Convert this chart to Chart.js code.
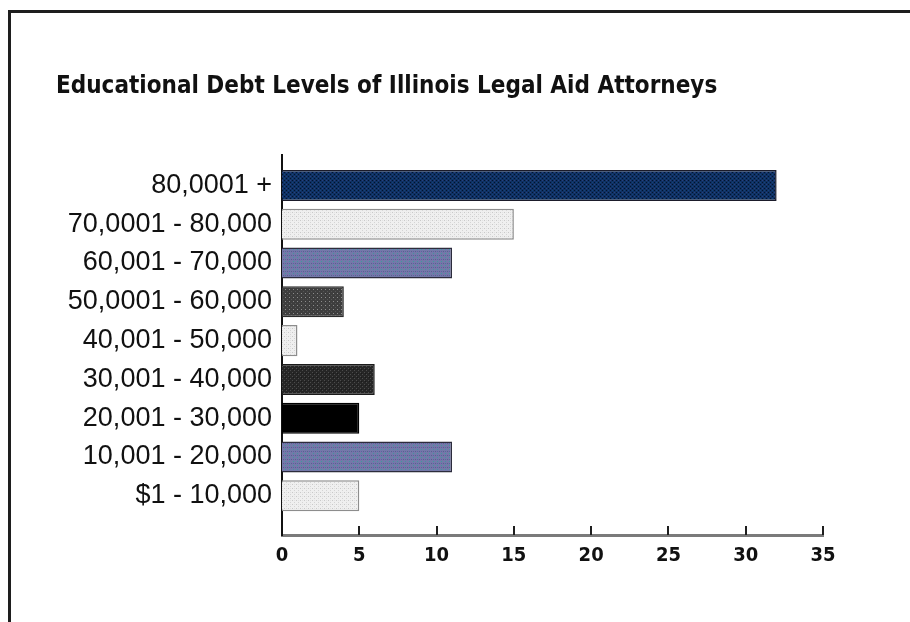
<!DOCTYPE html>
<html>
<head>
<meta charset="utf-8">
<title>Educational Debt Levels of Illinois Legal Aid Attorneys</title>
<script src="https://cdn.jsdelivr.net/npm/chart.js@4.4.1/dist/chart.umd.min.js"></script>
<style>
  html, body { margin: 0; padding: 0; background: #ffffff; }
  #wrap { position: relative; width: 910px; height: 622px; overflow: hidden; }
  #frame {
    position: absolute; left: 8px; top: 10px; width: 960px; height: 680px;
    border-left: 3px solid #1e1e1e; border-top: 3px solid #1e1e1e;
    box-sizing: border-box; pointer-events: none;
  }
  canvas { position: absolute; left: 0; top: 0; }
</style>
</head>
<body>
<div id="wrap">
  <canvas id="chart" width="910" height="622"></canvas>
  <div id="frame"></div>
</div>
<script>
// Debt brackets, top to bottom
const categories = [
  '80,0001 +',
  '70,0001 - 80,000',
  '60,001 - 70,000',
  '50,0001 - 60,000',
  '40,001 - 50,000',
  '30,001 - 40,000',
  '20,001 - 30,000',
  '10,001 - 20,000',
  '$1 - 10,000'
];

// Number of attorneys in each bracket
const attorneys = [32, 15, 11, 4, 1, 6, 5, 11, 5];

// Value axis tick labels
const xTicks = [0, 5, 10, 15, 20, 25, 30, 35];

// Textured fills for the bars
function makePattern(base, dots, tile) {
  const c = document.createElement('canvas');
  c.width = tile; c.height = tile;
  const g = c.getContext('2d');
  g.fillStyle = base;
  g.fillRect(0, 0, tile, tile);
  dots.forEach(d => { g.fillStyle = d[2]; g.fillRect(d[0], d[1], 1, 1); });
  return g.createPattern(c, 'repeat');
}

const fills = {
  navy: makePattern('#0e3163', [[0, 0, '#04132c'], [2, 2, '#04132c'], [2, 0, '#2b3f7c'], [0, 2, '#18427a']], 4),
  light: makePattern('#efefef', [[0, 0, '#c9c9c9'], [2, 2, '#d4d4d4'], [2, 0, '#e2e2e2']], 4),
  slate: makePattern('#7478a9', [[1, 1, '#3e9c9c'], [3, 3, '#5a5f8e'], [1, 3, '#5e63a0']], 4),
  gray: makePattern('#3e3e3e', [[1, 1, '#8c8c8c'], [3, 3, '#555555']], 4),
  charcoal: makePattern('#262626', [[0, 0, '#4c4c4c'], [2, 2, '#4c4c4c'], [1, 1, '#1a1a1a']], 4),
  black: '#000000'
};

const barFills = [fills.navy, fills.light, fills.slate, fills.gray, fills.light,
                  fills.charcoal, fills.black, fills.slate, fills.light];
const barEdges = ['#1b1b2a', '#8d8d8d', '#2c2c3c', '#2a2a2a', '#8d8d8d',
                  '#1a1a1a', '#000000', '#2c2c3c', '#8d8d8d'];

// Short tick marks pointing up from the value axis
const innerTicks = {
  id: 'innerTicks',
  afterDatasetsDraw(chart) {
    const x = chart.scales.x;
    const bottom = chart.chartArea.bottom;
    const ctx = chart.ctx;
    ctx.save();
    ctx.strokeStyle = '#1e1e1e';
    ctx.lineWidth = 2;
    x.ticks.forEach(t => {
      if (t.value === 0) return;
      const px = Math.round(x.getPixelForValue(t.value));
      ctx.beginPath();
      ctx.moveTo(px, bottom - 9);
      ctx.lineTo(px, bottom);
      ctx.stroke();
    });
    ctx.restore();
  }
};

new Chart(document.getElementById('chart'), {
  type: 'bar',
  data: {
    datasets: [{
      data: attorneys.map((v, i) => ({ x: v, y: i })),
      backgroundColor: barFills,
      borderColor: barEdges,
      borderWidth: 1.5,
      barPercentage: 0.8,
      categoryPercentage: 1
    }]
  },
  options: {
    indexAxis: 'y',
    responsive: false,
    animation: false,
    devicePixelRatio: 1,
    layout: { padding: { left: 56, right: 87, top: 0, bottom: 45 } },
    plugins: {
      legend: { display: false },
      tooltip: { enabled: false },
      title: {
        display: true,
        text: 'Educational Debt Levels of Illinois Legal Aid Attorneys',
        align: 'start',
        color: '#111111',
        font: { family: "'Liberation Sans Narrow', 'DejaVu Sans Condensed', sans-serif", size: 24, weight: 'bold' },
        padding: { top: 72, bottom: 54 }
      }
    },
    scales: {
      x: {
        type: 'linear',
        min: 0,
        max: 35,
        afterBuildTicks: s => { s.ticks = xTicks.map(v => ({ value: v })); },
        grid: { display: false, drawTicks: false },
        border: { display: true, color: '#7a7a7a', width: 3 },
        ticks: {
          color: '#111111',
          padding: 9,
          font: { family: "'Liberation Sans Narrow', 'DejaVu Sans Condensed', sans-serif", size: 20, weight: 'bold' }
        }
      },
      y: {
        type: 'linear',
        reverse: true,
        offset: false,
        min: -0.79,
        max: 9.01,
        afterBuildTicks: s => { s.ticks = categories.map((_, i) => ({ value: i })); },
        afterFit: s => { s.width = 226; },
        grid: { display: false, drawTicks: false, offset: false },
        border: { display: true, color: '#111111', width: 2 },
        ticks: {
          color: '#111111',
          padding: 10,
          autoSkip: false,
          font: { family: "'Liberation Sans', Arial, sans-serif", size: 27 },
          callback: v => categories[v]
        }
      }
    }
  },
  plugins: [innerTicks]
});
</script>
</body>
</html>
